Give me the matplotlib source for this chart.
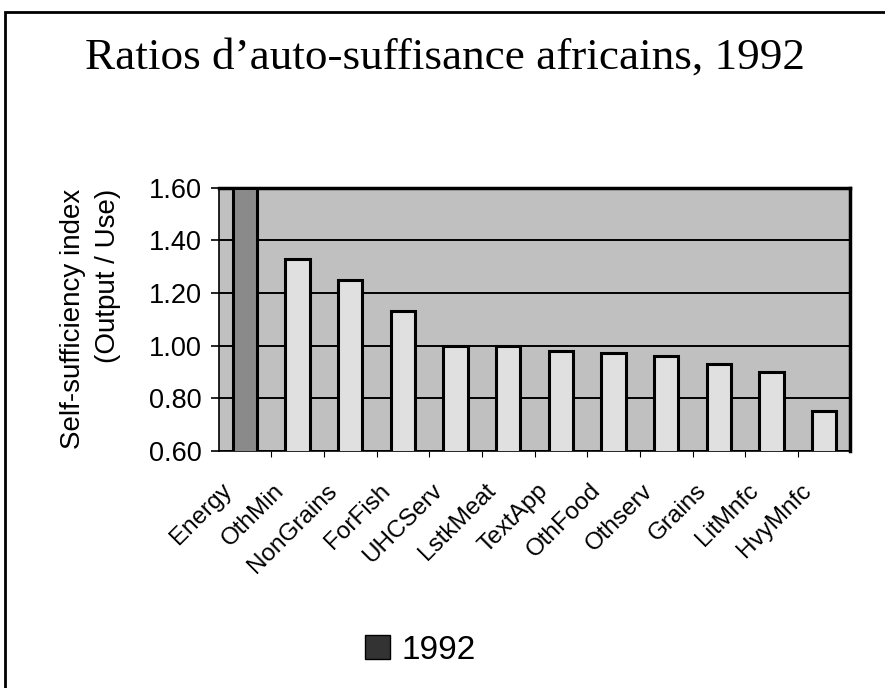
import matplotlib.pyplot as plt
import matplotlib.transforms as mtransforms
from matplotlib.patches import Patch, Rectangle

categorias = ["Energy", "OthMin", "NonGrains", "ForFish", "UHCServ", "LstkMeat",
              "TextApp", "OthFood", "Othserv", "Grains", "LitMnfc", "HvyMnfc"]
valores_1992 = [1.60, 1.33, 1.25, 1.13, 1.00, 1.00, 0.98, 0.97, 0.96, 0.93, 0.90, 0.75]
y_ticks = [0.60, 0.80, 1.00, 1.20, 1.40, 1.60]

fig = plt.figure(figsize=(8.85, 6.88), dpi=100)
ax = fig.add_axes([0.247, 0.345, 0.714, 0.382])
ax.set_facecolor("#c0c0c0")

x = range(len(categorias))
ax.bar(x, valores_1992, width=0.46, color="#e0e0e0",
       edgecolor="black", linewidth=2.2, zorder=3)
# la barra Energy sale mas oscura en el original
ax.patches[0].set_facecolor("#8a8a8a")

ax.set_ylim(0.60, 1.60)
ax.set_xlim(-0.5, len(categorias) - 0.5)
ax.set_yticks(y_ticks)
ax.set_yticklabels([f"{v:.2f}" for v in y_ticks], fontsize=19.5, family="Liberation Sans")
ax.yaxis.grid(True, color="black", linewidth=1.4, zorder=1)
ax.set_axisbelow(True)

ax.set_xticks(list(x))
ax.set_xticks([i + 0.5 for i in range(len(categorias) - 1)], minor=True)
ax.set_xticklabels(categorias, rotation=45, ha="right", rotation_mode="anchor",
                   fontsize=17.5, family="Liberation Sans")
ax.tick_params(axis="x", which="major", length=0, pad=18)
ax.tick_params(axis="x", which="minor", length=4, width=0.8, direction="out")
ax.tick_params(axis="y", length=6, width=1.2, pad=6)

# desplazar las etiquetas un poco a la izquierda, como en el original
desplazamiento = mtransforms.ScaledTranslation(-0.24, -0.04, fig.dpi_scale_trans)
for etiqueta in ax.get_xticklabels():
    etiqueta.set_transform(etiqueta.get_transform() + desplazamiento)

for lado in ["top", "right"]:
    ax.spines[lado].set_linewidth(2.5)
ax.spines["left"].set_linewidth(1.2)
ax.spines["bottom"].set_linewidth(1.2)

ax.set_ylabel("Self-sufficiency index\n(Output / Use)", fontsize=20,
              family="Liberation Sans", labelpad=20, linespacing=1.45,
              multialignment="right")

fig.text(0.503, 0.917, "Ratios d\u2019auto-suffisance africains, 1992",
         ha="center", va="center", fontsize=32.5, family="Liberation Serif")

leyenda = [Patch(facecolor="#333333", edgecolor="black", label="1992")]
fig.legend(handles=leyenda, loc="center", bbox_to_anchor=(0.475, 0.055),
           frameon=False, prop={"family": "Liberation Sans", "size": 24},
           handlelength=0.75, handleheight=0.75, handletextpad=0.35)

# marco exterior de la figura
fig.patches.append(Rectangle((0.006, -0.01), 1.0, 0.993, transform=fig.transFigure,
                             fill=False, edgecolor="black", linewidth=2.0))

plt.savefig("out.png", dpi=100)
